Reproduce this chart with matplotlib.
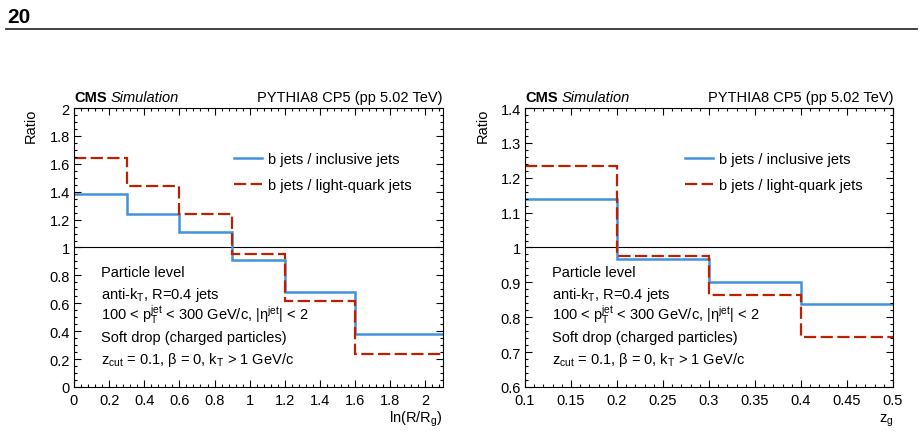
import matplotlib
matplotlib.use("Agg")
import matplotlib.pyplot as plt
from matplotlib.lines import Line2D
from matplotlib.ticker import AutoMinorLocator, FormatStrFormatter, MultipleLocator

plt.rcParams["font.family"] = ["Liberation Sans", "DejaVu Sans"]
plt.rcParams["mathtext.fontset"] = "custom"
plt.rcParams["mathtext.rm"] = "Liberation Sans"
plt.rcParams["mathtext.it"] = "Liberation Sans:italic"
plt.rcParams["mathtext.bf"] = "Liberation Sans:bold"

# ratio of b jets over the other samples, per bin
lnr_edges = [0.0, 0.3, 0.6, 0.9, 1.2, 1.6, 2.1]
lnr_b_over_incl = [1.38, 1.24, 1.11, 0.91, 0.68, 0.38]
lnr_b_over_light = [1.64, 1.44, 1.24, 0.95, 0.62, 0.24]

zg_edges = [0.1, 0.2, 0.3, 0.4, 0.5]
zg_b_over_incl = [1.14, 0.968, 0.902, 0.839]
zg_b_over_light = [1.233, 0.976, 0.863, 0.744]

legend_labels = ["b jets / inclusive jets", "b jets / light-quark jets"]
info_lines = [
    "Particle level",
    r"anti-k$_{\mathrm{T}}$, R=0.4 jets",
    r"100 < p$_{\mathrm{T}}^{\mathrm{jet}}$ < 300 GeV/c, |η$^{\mathrm{jet}}$| < 2",
    "Soft drop (charged particles)",
    r"z$_{\mathrm{cut}}$ = 0.1, β = 0, k$_{\mathrm{T}}$ > 1 GeV/c",
]

BLUE = "#4393dc"
RED = "#bd1f01"
FS = 10.5


def draw_panel(ax, edges, incl, light, xlim, ylim, xmaj, ymaj, xlabel, xfmt):
    ax.stairs(incl, edges, baseline=None, color=BLUE, lw=1.8)
    ax.stairs(light, edges, baseline=None, color=RED, lw=1.6, linestyle=(0, (5.5, 2)))
    ax.axhline(1.0, color="black", lw=0.8, zorder=0)

    ax.set_xlim(*xlim)
    ax.set_ylim(*ylim)
    ax.xaxis.set_major_locator(MultipleLocator(xmaj))
    ax.yaxis.set_major_locator(MultipleLocator(ymaj))
    ax.xaxis.set_minor_locator(AutoMinorLocator(5))
    ax.yaxis.set_minor_locator(AutoMinorLocator(5 if ymaj < 0.2 else 4))
    ax.xaxis.set_major_formatter(FormatStrFormatter(xfmt))
    ax.yaxis.set_major_formatter(FormatStrFormatter("%g"))
    ax.tick_params(which="both", direction="in", top=True, right=True, labelsize=FS)
    ax.tick_params(which="major", length=5, width=0.8)
    ax.tick_params(which="minor", length=2.5, width=0.8)
    ax.tick_params(axis="y", pad=3)
    ax.tick_params(axis="x", pad=4)
    for s in ax.spines.values():
        s.set_linewidth(0.8)

    handles = [Line2D([], [], color=BLUE, lw=1.8),
               Line2D([], [], color=RED, lw=1.6, linestyle=(0, (5.5, 2)))]
    ax.legend(handles, legend_labels, loc="center left", bbox_to_anchor=(0.435, 0.771),
              frameon=False, fontsize=FS, handlelength=1.9, handletextpad=0.4,
              labelspacing=0.85, borderpad=0, borderaxespad=0)

    x0 = 0.072
    for i, line in enumerate(info_lines):
        ax.text(x0, 0.398 - i * 0.0778, line, transform=ax.transAxes,
                fontsize=FS, va="baseline", ha="left")

    ax.text(0, 1.026, "CMS", transform=ax.transAxes, fontsize=FS,
            fontweight="bold", va="baseline", ha="left")
    ax.text(0.10, 1.026, "Simulation", transform=ax.transAxes, fontsize=FS,
            style="italic", va="baseline", ha="left")
    ax.text(1.0, 1.026, "PYTHIA8 CP5 (pp 5.02 TeV)", transform=ax.transAxes,
            fontsize=FS, va="baseline", ha="right")
    ax.text(-0.116, 1.0, "Ratio", transform=ax.transAxes, fontsize=FS,
            rotation=90, ha="center", va="top")
    ax.text(1.0, -0.125, xlabel, transform=ax.transAxes, fontsize=FS,
            ha="right", va="baseline")


fig = plt.figure(figsize=(9.2, 4.39), dpi=100)
ax1 = fig.add_axes([0.0804, 0.1162, 0.4011, 0.6355])
ax2 = fig.add_axes([0.5707, 0.1162, 0.4000, 0.6355])

draw_panel(ax1, lnr_edges, lnr_b_over_incl, lnr_b_over_light, (0, 2.1), (0, 2),
           0.2, 0.2, r"ln(R/R$_{\mathrm{g}}$)", "%g")
draw_panel(ax2, zg_edges, zg_b_over_incl, zg_b_over_light, (0.1, 0.5), (0.6, 1.4),
           0.05, 0.1, r"z$_{\mathrm{g}}$", "%g")

# page number and rule at the top
fig.text(7 / 920, 1 - 23 / 439, "20", fontsize=15, fontweight="bold",
         ha="left", va="baseline")
fig.add_artist(Line2D([6 / 920, 917 / 920], [1 - 29.5 / 439] * 2,
                      color="#333333", lw=1.3))

fig.savefig("out.png", dpi=100)
